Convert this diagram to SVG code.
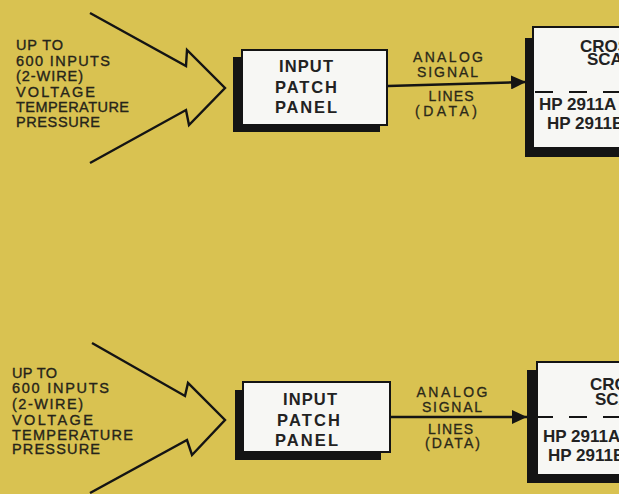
<svg xmlns="http://www.w3.org/2000/svg" width="619" height="494" viewBox="0 0 619 494">
<style>
.lbl{font-family:"Liberation Sans",Arial,sans-serif;font-size:14.5px;fill:#26241a;stroke:#26241a;stroke-width:0.35}
.sig{font-family:"Liberation Sans",Arial,sans-serif;font-size:14px;fill:#2a2819;stroke:#2a2819;stroke-width:0.3;text-anchor:middle}
.box{font-family:"Liberation Sans",Arial,sans-serif;font-size:16.5px;font-weight:bold;fill:#222;text-anchor:middle}
.scn{font-family:"Liberation Sans",Arial,sans-serif;font-size:17px;font-weight:bold;fill:#222}
.shadow{fill:#141414}
.panel{fill:#f7f7f4;stroke:#141414;stroke-width:2}
.big{fill:none;stroke:#141414;stroke-width:2.4;stroke-linejoin:miter}
.wire{fill:none;stroke:#141414;stroke-width:2.4}
.dash{stroke:#141414;stroke-width:2;stroke-dasharray:18 16}
</style>
<defs>
<marker id="ah" markerUnits="userSpaceOnUse" markerWidth="16" markerHeight="14" refX="15" refY="7" orient="auto">
<path d="M0,0 L15,7 L0,14 Z" fill="#141414"/>
</marker>
</defs>
<rect x="0" y="0" width="619" height="494" fill="#d9c251"/>

<g id="connectors">
<polyline class="big" points="90,13 186,66 187,50 225,88 189,125 186,110 90,163"/>
<path class="wire" d="M388,86 L526,82" marker-end="url(#ah)"/>
<polyline class="big" points="92,343 185,396 188,383 225,420 192,455 187,440 90,493"/>
<path class="wire" d="M390,417 L527,417" marker-end="url(#ah)"/>
</g>

<g id="inputs-top">
<text class="lbl" x="16" y="50" textLength="47" lengthAdjust="spacing">UP TO</text>
<text class="lbl" x="16" y="66" textLength="94" lengthAdjust="spacing">600 INPUTS</text>
<text class="lbl" x="16" y="81" textLength="67" lengthAdjust="spacing">(2-WIRE)</text>
<text class="lbl" x="16" y="96.5" textLength="79" lengthAdjust="spacing">VOLTAGE</text>
<text class="lbl" x="16" y="111.5" textLength="113" lengthAdjust="spacing">TEMPERATURE</text>
<text class="lbl" x="16" y="127" textLength="84" lengthAdjust="spacing">PRESSURE</text>
</g>

<g id="patch-panel-top">
<rect class="shadow" x="233" y="57" width="147" height="75"/>
<rect class="panel" x="242" y="50" width="145" height="75"/>
<text class="box" x="306" y="72" textLength="54" lengthAdjust="spacing">INPUT</text>
<text class="box" x="306" y="93" textLength="62" lengthAdjust="spacing">PATCH</text>
<text class="box" x="306" y="113" textLength="62" lengthAdjust="spacing">PANEL</text>
</g>

<g id="signal-label-top">
<text class="sig" x="448" y="62" textLength="70" lengthAdjust="spacing">ANALOG</text>
<text class="sig" x="447.5" y="76.5" textLength="61" lengthAdjust="spacing">SIGNAL</text>
<text class="sig" x="451" y="101" textLength="45" lengthAdjust="spacing">LINES</text>
<text class="sig" x="446" y="115.5" textLength="62" lengthAdjust="spacing">(DATA)</text>
</g>

<g id="scanner-top">
<rect class="shadow" x="525" y="38" width="110" height="119"/>
<rect class="panel" x="533" y="27" width="100" height="121"/>
<line class="dash" x1="535" y1="92" x2="619" y2="92"/>
<text class="scn" x="580" y="52">CROSSBAR</text>
<text class="scn" x="587" y="65">SCANNER</text>
<text class="scn" x="539" y="110">HP 2911A</text>
<text class="scn" x="547" y="128.5">HP 2911B</text>
</g>

<g id="inputs-bottom">
<text class="lbl" x="12" y="378" textLength="45" lengthAdjust="spacing">UP TO</text>
<text class="lbl" x="12" y="393" textLength="97" lengthAdjust="spacing">600 INPUTS</text>
<text class="lbl" x="12" y="408.5" textLength="71" lengthAdjust="spacing">(2-WIRE)</text>
<text class="lbl" x="12" y="424.5" textLength="81" lengthAdjust="spacing">VOLTAGE</text>
<text class="lbl" x="12" y="439.5" textLength="121" lengthAdjust="spacing">TEMPERATURE</text>
<text class="lbl" x="12" y="454" textLength="88" lengthAdjust="spacing">PRESSURE</text>
</g>

<g id="patch-panel-bottom">
<rect class="shadow" x="235" y="390" width="146" height="70"/>
<rect class="panel" x="243" y="382" width="147" height="70"/>
<text class="box" x="310" y="405" textLength="54" lengthAdjust="spacing">INPUT</text>
<text class="box" x="308.5" y="425.5" textLength="63" lengthAdjust="spacing">PATCH</text>
<text class="box" x="306.5" y="445.5" textLength="63" lengthAdjust="spacing">PANEL</text>
</g>

<g id="signal-label-bottom">
<text class="sig" x="452" y="396.5" textLength="71" lengthAdjust="spacing">ANALOG</text>
<text class="sig" x="452" y="411.5" textLength="60" lengthAdjust="spacing">SIGNAL</text>
<text class="sig" x="450.5" y="433.5" textLength="45" lengthAdjust="spacing">LINES</text>
<text class="sig" x="452.5" y="448" textLength="55" lengthAdjust="spacing">(DATA)</text>
</g>

<g id="scanner-bottom">
<rect class="shadow" x="527" y="370" width="110" height="113"/>
<rect class="panel" x="537" y="362" width="100" height="113"/>
<line class="dash" x1="535" y1="417" x2="619" y2="417"/>
<text class="scn" x="590" y="390">CROSSBAR</text>
<text class="scn" x="595" y="405">SCANNER</text>
<text class="scn" x="543" y="442">HP 2911A</text>
<text class="scn" x="548" y="461">HP 2911B</text>
</g>
</svg>
